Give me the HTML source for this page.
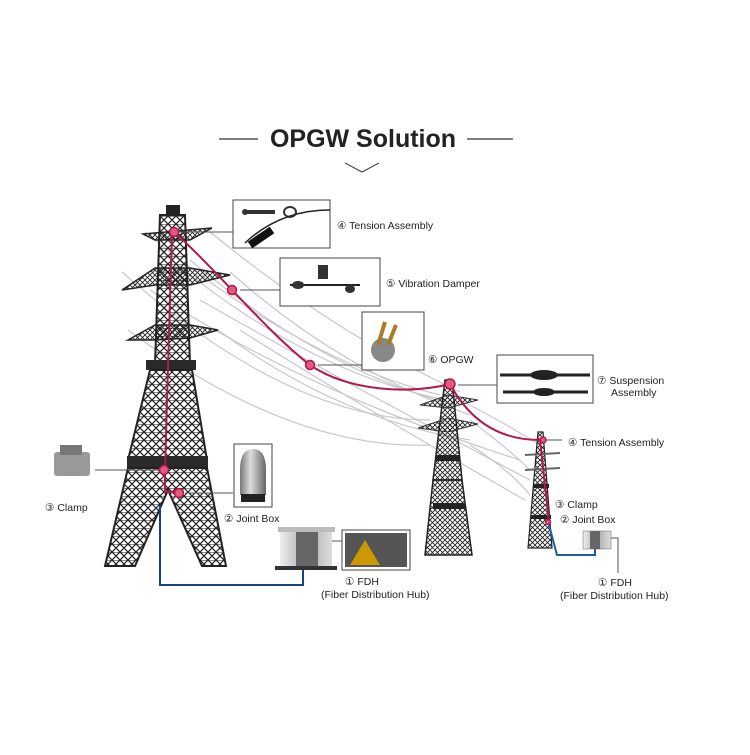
<!DOCTYPE html>
<html><head><meta charset="utf-8"><style>
body{margin:0;background:#fff}
svg text{font-family:"Liberation Sans","DejaVu Sans",sans-serif;fill:#222}
</style></head><body>
<svg width="750" height="750" viewBox="0 0 750 750" xmlns="http://www.w3.org/2000/svg">
<defs>
<pattern id="lat" width="8" height="8" patternUnits="userSpaceOnUse">
<path d="M0 0L8 8M8 0L0 8" stroke="#222" stroke-width="1.2"/>
<path d="M0 0H8" stroke="#222" stroke-width="1"/>
</pattern>
<pattern id="lat2" width="5" height="5" patternUnits="userSpaceOnUse">
<path d="M0 0L5 5M5 0L0 5" stroke="#222" stroke-width="0.9"/>
</pattern>
<linearGradient id="fdh" x1="0" x2="1"><stop offset="0" stop-color="#eee"/><stop offset="0.5" stop-color="#aaa"/><stop offset="1" stop-color="#ddd"/></linearGradient>
<linearGradient id="jb" x1="0" x2="1"><stop offset="0" stop-color="#777"/><stop offset="0.4" stop-color="#ddd"/><stop offset="1" stop-color="#666"/></linearGradient>
</defs>

<line x1="219" y1="139" x2="258" y2="139" stroke="#333" stroke-width="1.2"/>
<line x1="467" y1="139" x2="513" y2="139" stroke="#333" stroke-width="1.2"/>
<text x="363" y="147" font-size="25" font-weight="bold" text-anchor="middle" fill="#111">OPGW Solution</text>
<path d="M345 163L362 172L379 163" fill="none" stroke="#444" stroke-width="1"/>

<g fill="none" stroke="#c8c8c8" stroke-width="1.2">
<path d="M145 232Q300 360 440 395"/>
<path d="M210 232Q330 330 460 392"/>
<path d="M122 272Q290 420 430 420"/>
<path d="M230 272Q340 370 470 415"/>
<path d="M128 330Q290 450 430 445"/>
<path d="M218 330Q340 420 470 440"/>
<path d="M150 290Q300 390 520 460"/>
<path d="M200 300Q340 380 530 480"/>
<path d="M240 330Q350 400 525 500"/>
<path d="M160 250Q300 370 445 400"/>
<path d="M190 260Q320 370 455 405"/>
<path d="M450 395Q500 420 540 445"/>
<path d="M470 420Q510 450 530 470"/>
<path d="M470 445Q510 470 530 495"/>
</g>

<g>
<rect x="166" y="205" width="14" height="10" fill="#222"/>
<polygon points="160,215 185,215 190,365 155,365" fill="url(#lat)" stroke="#222" stroke-width="2"/>
<polygon points="143,234 212,228 190,240 155,240" fill="url(#lat2)" stroke="#222" stroke-width="1.5"/>
<polygon points="122,290 155,268 190,268 230,275 190,285 155,285" fill="url(#lat2)" stroke="#222" stroke-width="1.5"/>
<polygon points="128,340 155,325 190,325 218,330 190,338 155,340" fill="url(#lat2)" stroke="#222" stroke-width="1.5"/>
<rect x="146" y="360" width="50" height="10" fill="#2a2a2a"/>
<polygon points="150,370 192,370 207,460 128,460" fill="url(#lat)" stroke="#222" stroke-width="2"/>
<rect x="127" y="456" width="81" height="12" fill="#2a2a2a"/>
<polygon points="128,468 207,468 226,566 202,566 168,490 135,566 105,566" fill="url(#lat)" stroke="#222" stroke-width="2"/>
</g>

<g>
<polygon points="445,380 452,380 462,480 433,480" fill="url(#lat2)" stroke="#222" stroke-width="1.5"/>
<polygon points="420,405 448,395 478,400 448,408" fill="url(#lat2)" stroke="#333"/>
<polygon points="418,428 448,418 478,424 448,432" fill="url(#lat2)" stroke="#333"/>
<rect x="436" y="455" width="24" height="6" fill="#222"/>
<rect x="433" y="503" width="32" height="6" fill="#222"/>
<polygon points="433,480 462,480 472,555 425,555" fill="url(#lat2)" stroke="#222" stroke-width="1.5"/>
</g>

<g>
<polygon points="538,432 543,432 552,548 528,548" fill="url(#lat2)" stroke="#222" stroke-width="1.2"/>
<line x1="525" y1="455" x2="560" y2="453" stroke="#666" stroke-width="2"/>
<line x1="525" y1="470" x2="560" y2="468" stroke="#666" stroke-width="2"/>
<rect x="533" y="484" width="16" height="4" fill="#222"/>
<rect x="531" y="515" width="20" height="4" fill="#222"/>
</g>

<g fill="none" stroke="#b3184a" stroke-width="2">
<path d="M174 232C215 268 265 330 310 365C350 392 410 394 450 384"/>
<path d="M450 384Q480 440 540 440"/>
<path d="M172 232L165 470L165 492L178 492"/>
<path d="M540 440L549 522"/>
</g>
<path d="M160 505V585H303V545" fill="none" stroke="#1a3d8a" stroke-width="2"/>
<path d="M549 525L557 555H595V540" fill="none" stroke="#1a5fa0" stroke-width="2"/>

<g stroke="#555" stroke-width="1">
<line x1="180" y1="232" x2="233" y2="232"/>
<line x1="240" y1="290" x2="280" y2="290"/>
<line x1="318" y1="365" x2="362" y2="365"/>
<line x1="458" y1="385" x2="497" y2="385"/>
<line x1="545" y1="440" x2="562" y2="440"/>
<line x1="95" y1="470" x2="160" y2="470"/>
<line x1="185" y1="493" x2="233" y2="493"/>
<line x1="313" y1="541" x2="342" y2="541"/>
<polyline points="600,538 618,538 618,573" fill="none"/>
</g>

<g fill="#e35a80" stroke="#b3184a" stroke-width="1.5">
<circle cx="174" cy="232" r="4.5"/>
<circle cx="232" cy="290" r="4.5"/>
<circle cx="310" cy="365" r="4.5"/>
<circle cx="450" cy="384" r="5"/>
<circle cx="543" cy="440" r="3"/>
<circle cx="164" cy="470" r="4.5"/>
<circle cx="179" cy="493" r="4.5"/>
<circle cx="548" cy="522" r="2.5"/>
<circle cx="303" cy="541" r="4"/>
<circle cx="595" cy="540" r="2.5"/>
</g>

<g fill="#fff" stroke="#444" stroke-width="1">
<rect x="233" y="200" width="97" height="48"/>
<rect x="280" y="258" width="100" height="48"/>
<rect x="362" y="312" width="62" height="58"/>
<rect x="497" y="355" width="96" height="48"/>
<rect x="234" y="444" width="38" height="63"/>
<rect x="342" y="530" width="68" height="40"/>
</g>
<path d="M245 212H275" stroke="#333" stroke-width="4"/><circle cx="245" cy="212" r="3" fill="#333"/><ellipse cx="290" cy="212" rx="6" ry="5" fill="none" stroke="#333" stroke-width="2"/>
<path d="M245 243Q280 210 330 210" fill="none" stroke="#222" stroke-width="1.5"/>
<path d="M250 245L272 230" stroke="#111" stroke-width="8"/>
<path d="M290 285H360" stroke="#222" stroke-width="2"/><rect x="318" y="265" width="10" height="14" fill="#333"/>
<ellipse cx="298" cy="285" rx="6" ry="4" fill="#333"/><ellipse cx="350" cy="289" rx="5" ry="4" fill="#333"/>
<circle cx="383" cy="350" r="12" fill="#888"/><path d="M378 345L385 322M388 345L396 325" stroke="#a87a2a" stroke-width="4"/>
<path d="M500 375H590M503 392H588" stroke="#222" stroke-width="3"/><ellipse cx="544" cy="375" rx="14" ry="5" fill="#222"/><ellipse cx="544" cy="392" rx="11" ry="4" fill="#222"/>
<path d="M240 495V470Q240 449 253 449Q266 449 266 470V495Z" fill="url(#jb)"/><rect x="241" y="494" width="24" height="8" fill="#222"/>
<rect x="54" y="452" width="36" height="24" rx="3" fill="#999"/><rect x="60" y="445" width="22" height="10" fill="#777"/>
<rect x="345" y="533" width="62" height="34" fill="#555"/><path d="M350 565L365 540L380 565" fill="#c90"/>
<rect x="278" y="527" width="57" height="5" fill="#bbb"/>
<rect x="280" y="532" width="52" height="36" fill="url(#fdh)"/>
<rect x="296" y="532" width="22" height="34" fill="#666"/>
<rect x="275" y="566" width="62" height="4" fill="#333"/>
<rect x="583" y="531" width="28" height="18" fill="url(#fdh)" stroke="#666" stroke-width="0.5"/>
<rect x="590" y="531" width="10" height="18" fill="#666"/>

<g font-size="10.5">
<text x="337" y="229">④ Tension Assembly</text>
<text x="386" y="287">⑤ Vibration Damper</text>
<text x="428" y="363">⑥ OPGW</text>
<text x="597" y="384">⑦ Suspension</text>
<text x="611" y="396">Assembly</text>
<text x="568" y="446">④ Tension Assembly</text>
<text x="45" y="511">③ Clamp</text>
<text x="224" y="522">② Joint Box</text>
<text x="345" y="585">① FDH</text>
<text x="321" y="598">(Fiber Distribution Hub)</text>
<text x="555" y="508">③ Clamp</text>
<text x="560" y="523">② Joint Box</text>
<text x="598" y="586">① FDH</text>
<text x="560" y="599">(Fiber Distribution Hub)</text>
</g>
</svg>
</body></html>
